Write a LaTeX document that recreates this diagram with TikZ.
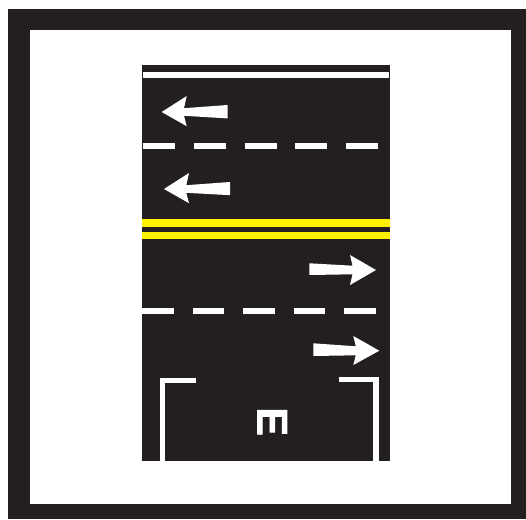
\documentclass[tikz,border=0pt]{standalone}
\usepackage{fontspec}
\newfontfamily\signfont[BoldFeatures={FakeBold=1.6}]{Liberation Sans}
\definecolor{asphalt}{HTML}{231F20}
\definecolor{lineyellow}{HTML}{FFF200}
\tikzset{
  paint/.style={fill=white},
  yellowpaint/.style={fill=lineyellow},
}
\begin{document}
\begin{tikzpicture}[x=1pt,y=-1pt]
\useasboundingbox (0,0) rectangle (526,519);
\fill[white] (0,0) rectangle (526,519);
% frame
\fill[asphalt] (8,9) rectangle (526,519);
\fill[white] (30,30) rectangle (511,504);
% road
\fill[asphalt] (141.5,64.5) rectangle (389.5,461);
% top edge line
\fill[paint] (143,72) rectangle (389,77.5);
% lane dashes
\foreach \x in {143,194,244.5,295,345.5}
  \fill[paint] (\x,142.5) rectangle ++(32,6.2);
\foreach \x in {142,192.5,243,293.5,344}
  \fill[paint] (\x,308.3) rectangle ++(31.7,6);
% double yellow centre line
\fill[yellowpaint] (141.5,219.3) rectangle (389.5,226.7);
\fill[yellowpaint] (141.5,231.7) rectangle (389.5,239.3);
% arrows (left)
\fill[paint] (161.7,112) -- (186.7,96) -- (184,108.2) -- (227.5,105) -- (227.5,118.4)
  -- (184,115.8) -- (186.7,126.2) -- cycle;
\begin{scope}[shift={(2.3,77)}]
\fill[paint] (161.7,112) -- (186.7,96) -- (184,108.2) -- (227.7,105) -- (227.7,118.2)
  -- (184,115.8) -- (186.7,126.2) -- cycle;
\end{scope}
% arrows (right)
\fill[paint] (376,270) -- (350,285) -- (352.5,274.3) -- (309.3,275) -- (309.3,263.3)
  -- (352.5,265.7) -- (350,255) -- cycle;
\fill[paint] (379.3,350.7) -- (353.3,365) -- (355.8,355.3) -- (313.3,356) -- (313.3,343.3)
  -- (355.8,346.3) -- (353.3,336) -- cycle;
% bay brackets
\fill[paint] (160,378.3) rectangle (165,461);
\fill[paint] (160,378.3) rectangle (195.7,382.7);
\fill[paint] (339,376.7) rectangle (378.7,381.7);
\fill[paint] (373.3,376.7) rectangle (378.7,461);
% letter
\node[rotate=-90, inner sep=0pt, text=white, font=\signfont\bfseries\fontsize{43}{43}\selectfont]
  (letter) at (272.2,421.7) {E};
\end{tikzpicture}
\end{document}
